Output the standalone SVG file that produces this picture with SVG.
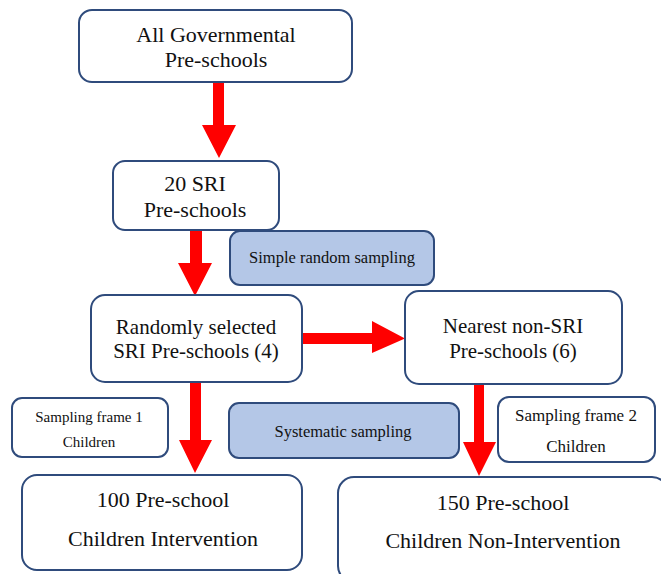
<svg xmlns="http://www.w3.org/2000/svg" width="661" height="574" viewBox="0 0 661 574">
<style>
.box{fill:#ffffff;stroke:#2f4b7c;stroke-width:2}
.note{fill:#b4c7e7;stroke:#2f4b7c;stroke-width:2}
text{font-family:'Liberation Serif','Tinos','DejaVu Serif',serif;fill:#111;text-anchor:middle}
.arrow{fill:#ff0000;stroke:none}
</style>
<rect width="661" height="574" fill="#ffffff"/>
<g id="connectors">
<polygon class="arrow" points="213,83 224,83 224,125 236,125 219,158 202,125 213,125"/>
<polygon class="arrow" points="190,230 202,230 202,263 212,263 195,296 178,263 190,263"/>
<polygon class="arrow" points="302,333 372,333 372,321 405,338.5 372,353 372,344 302,344"/>
<polygon class="arrow" points="190,382 201,382 201,440 212,440 195,473 179,440 190,440"/>
<polygon class="arrow" points="474,384 484,384 484,442 496,442 479,476 463,442 474,442"/>
</g>
<g id="n1">
<rect class="box" x="79" y="10" width="273" height="72" rx="13"/>
<text x="216" y="42" font-size="22">All Governmental</text>
<text x="216" y="67" font-size="22">Pre-schools</text>
</g>
<g id="n2">
<rect class="box" x="113" y="161" width="166" height="69" rx="12"/>
<text x="195" y="191" font-size="22">20 SRI</text>
<text x="195" y="217" font-size="22">Pre-schools</text>
</g>
<g id="n_srs">
<rect class="note" x="230" y="231" width="204" height="54" rx="10"/>
<text x="332" y="263" font-size="16.5">Simple random sampling</text>
</g>
<g id="n3">
<rect class="box" x="91" y="295" width="211" height="87" rx="14"/>
<text x="196" y="334" font-size="21">Randomly selected</text>
<text x="196" y="358" font-size="21">SRI Pre-schools (4)</text>
</g>
<g id="n4">
<rect class="box" x="405" y="291" width="217" height="93" rx="14"/>
<text x="513" y="333" font-size="21">Nearest non-SRI</text>
<text x="513" y="358" font-size="21">Pre-schools (6)</text>
</g>
<g id="n_sf1">
<rect class="box" x="12" y="398" width="156" height="59" rx="10"/>
<text x="89" y="422" font-size="15">Sampling frame 1</text>
<text x="89" y="447" font-size="15">Children</text>
</g>
<g id="n_sys">
<rect class="note" x="229" y="403" width="230" height="55" rx="10"/>
<text x="343" y="437" font-size="16.5">Systematic sampling</text>
</g>
<g id="n_sf2">
<rect class="box" x="498" y="397" width="157" height="65" rx="11"/>
<text x="576" y="421" font-size="17">Sampling frame 2</text>
<text x="576" y="452" font-size="17">Children</text>
</g>
<g id="n5">
<rect class="box" x="22" y="475" width="280" height="95" rx="15"/>
<text x="163" y="507" font-size="22">100 Pre-school</text>
<text x="163" y="546" font-size="22">Children Intervention</text>
</g>
<g id="n6">
<rect class="box" x="338" y="477" width="330" height="105" rx="16"/>
<text x="503" y="510" font-size="22">150 Pre-school</text>
<text x="503" y="548" font-size="22">Children Non-Intervention</text>
</g>
</svg>
